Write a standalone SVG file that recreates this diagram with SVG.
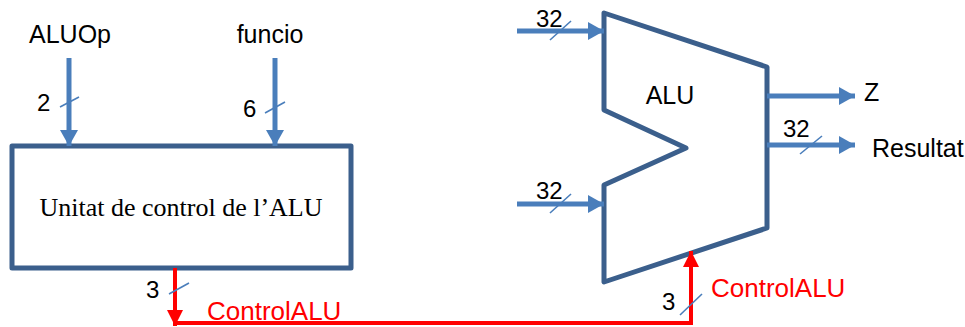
<svg xmlns="http://www.w3.org/2000/svg" width="965" height="327" viewBox="0 0 965 327">
<style>
.lbl{font-family:"Liberation Sans",Arial,sans-serif;font-size:25px;fill:#000}
.num{font-family:"Liberation Sans",Arial,sans-serif;font-size:24px;fill:#000}
.red{font-family:"Liberation Sans",Arial,sans-serif;font-size:26px;fill:#FF0000}
.blue{stroke:#4A7EBB;stroke-width:5;fill:none}
.redl{stroke:#FF0000;stroke-width:4;fill:none}
.slash{stroke:#4A7EBB;stroke-width:1.6;fill:none}
.shape{stroke:#3B5F8C;stroke-width:5;fill:#fff;stroke-linejoin:round}
</style>
<defs>
<marker id="ab" markerUnits="userSpaceOnUse" markerWidth="17" markerHeight="18" refX="16" refY="9" orient="auto"><path d="M0,0 L16,9 L0,18 Z" fill="#4A7EBB"/></marker>
<marker id="ar" markerUnits="userSpaceOnUse" markerWidth="17" markerHeight="16" refX="16" refY="8" orient="auto"><path d="M0,0 L16,8 L0,16 Z" fill="#FF0000"/></marker>
</defs>
<rect width="965" height="327" fill="#fff"/>
<g id="control-unit">
<rect x="12" y="146" width="339" height="122" class="shape" stroke-width="4"/>
<text x="181" y="216" text-anchor="middle" font-family="'Liberation Serif','Times New Roman',serif" font-size="26">Unitat de control de l’ALU</text>
</g>
<g id="alu">
<path d="M604,13 L767,67 L767,228 L604,282 L604,185 L686,148 L604,110 Z" class="shape"/>
<text x="670" y="104" class="lbl" text-anchor="middle">ALU</text>
</g>
<g id="connectors">
<line x1="69" y1="58" x2="69" y2="146" class="blue" marker-end="url(#ab)"/>
<line x1="275" y1="58" x2="275" y2="146" class="blue" marker-end="url(#ab)"/>
<line x1="517" y1="31" x2="604" y2="31" class="blue" marker-end="url(#ab)"/>
<line x1="517" y1="204" x2="604" y2="204" class="blue" marker-end="url(#ab)"/>
<line x1="767" y1="96" x2="855" y2="96" class="blue" marker-end="url(#ab)"/>
<line x1="767" y1="145" x2="855" y2="145" class="blue" marker-end="url(#ab)"/>
<line x1="175" y1="268" x2="175" y2="326" class="redl" marker-end="url(#ar)"/>
<polyline points="175,323 691,323 691,251" class="redl" marker-end="url(#ar)"/>
<line x1="60" y1="107" x2="79" y2="97" class="slash"/>
<line x1="265" y1="113" x2="285" y2="102" class="slash"/>
<line x1="550" y1="40" x2="571" y2="21" class="slash"/>
<line x1="550" y1="213" x2="571" y2="194" class="slash"/>
<line x1="800" y1="154" x2="822" y2="136" class="slash"/>
<line x1="169" y1="294" x2="189" y2="283" class="slash"/>
<line x1="680" y1="315" x2="702" y2="294" class="slash"/>
</g>
<g id="labels">
<text x="70" y="43" class="lbl" text-anchor="middle">ALUOp</text>
<text x="270" y="43" class="lbl" text-anchor="middle">funcio</text>
<text x="37" y="111" class="num">2</text>
<text x="243" y="117" class="num">6</text>
<text x="536" y="27" class="num">32</text>
<text x="536" y="199" class="num">32</text>
<text x="864" y="101" class="lbl">Z</text>
<text x="783" y="137" class="num">32</text>
<text x="872" y="157" class="lbl" font-size="23.5">Resultat</text>
<text x="146" y="298" class="num">3</text>
<text x="662" y="310" class="num">3</text>
<text x="207" y="320" class="red">ControlALU</text>
<text x="711" y="297" class="red">ControlALU</text>
</g>
</svg>
